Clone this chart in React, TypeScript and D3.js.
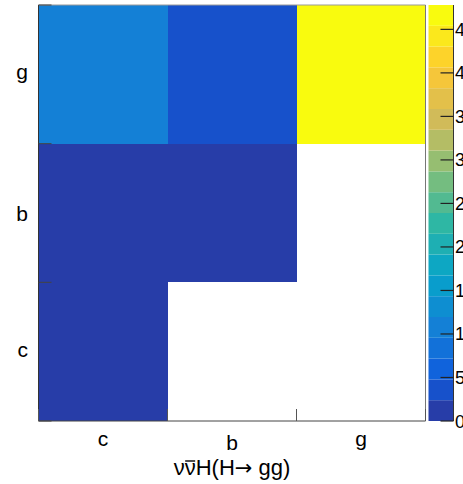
import React, { useLayoutEffect, useRef, useState } from 'react';
import * as d3 from 'd3';

// categories (bins) on both axes
const xCats = ['c', 'b', 'g'];
const yCats = ['c', 'b', 'g'];

// bin contents, one array per y row (x order: c, b, g); 0 = empty bin
const rowC = [1.0, 0, 0];
const rowB = [0.9, 1.3, 0];
const rowG = [10.6, 4.1, 47.8];
const rows = [rowC, rowB, rowG];

// colour bar tick labels
const zTicks = [0, 5, 10, 15, 20, 25, 30, 35, 40, 45];
const nContours = 20;

// ROOT kBird palette stops
const birdStops = [0, 0.125, 0.25, 0.375, 0.5, 0.625, 0.75, 0.875, 1];
const birdR = [0.2082, 0.0592, 0.078, 0.0232, 0.1802, 0.5301, 0.8186, 0.9956, 0.9764];
const birdG = [0.1664, 0.3599, 0.5041, 0.6419, 0.7178, 0.7492, 0.7328, 0.7862, 0.9832];
const birdB = [0.5293, 0.8684, 0.8385, 0.7914, 0.6425, 0.4662, 0.3499, 0.1968, 0.0539];

const birdScale = (ch: number[]) => d3.scaleLinear<number>().domain(birdStops).range(ch);
const sr = birdScale(birdR), sg = birdScale(birdG), sb = birdScale(birdB);

// colour of contour band k (same indexing as THistPainter)
const bandColor = (k: number) => {
  const idx = Math.floor((k + 0.99) * 255 / nContours);
  const pos = idx / 254;
  return d3.rgb(sr(pos) * 255, sg(pos) * 255, sb(pos) * 255).formatHex();
};

const W = 463, H = 484;
const frame = { left: 38.5, right: 425.5, top: 5, bottom: 421 };
const bar = { left: 428.5, right: 453.5 };
const FONT = '"Liberation Sans", Arial, Helvetica, sans-serif';

// labels with ascenders sit lower (ROOT aligns labels by their top)
const tall = (s: string) => /[bdfhklt]/.test(s);

export default function App() {
  const titleRef = useRef<SVGTextElement>(null);
  const [bar2, setBar2] = useState<{ x1: number; x2: number } | null>(null);

  // overline above the second nu: measure the glyph
  useLayoutEffect(() => {
    const t = titleRef.current;
    if (!t) return;
    const s = t.getStartPositionOfChar(1);
    const e = t.getEndPositionOfChar(1);
    setBar2({ x1: s.x, x2: e.x });
  }, []);

  const x = d3.scaleBand().domain(xCats).range([frame.left, frame.right]);
  const y = d3.scaleBand().domain(yCats).range([frame.bottom, frame.top]);
  const zmax = d3.max(rows.flat()) as number;
  const z = d3.scaleLinear().domain([0, zmax]).range([frame.bottom, frame.top]);
  const dz = zmax / nContours;
  const band = (v: number) => Math.min(nContours - 1, Math.floor(v / dz));

  const cells: { xi: string; yi: string; v: number }[] = [];
  rows.forEach((r, j) => r.forEach((v, i) => {
    if (v > 0) cells.push({ xi: xCats[i], yi: yCats[j], v });
  }));

  const xEdges = d3.range(xCats.length + 1).map(i => frame.left + i * x.bandwidth());
  const yEdges = d3.range(yCats.length + 1).map(i => frame.bottom - i * y.bandwidth());
  const titleY = 475;

  return (
    <svg width={W} height={H} style={{ position: 'absolute', left: 0, top: 0, background: '#fff' }}
      fontFamily={FONT}>
      {/* cells */}
      {cells.map((c, i) => (
        <rect key={i} x={x(c.xi)} y={y(c.yi)} width={x.bandwidth()} height={y.bandwidth()}
          fill={bandColor(band(c.v))} shapeRendering="crispEdges" />
      ))}

      {/* frame */}
      <line x1={frame.left} x2={frame.right} y1={frame.top} y2={frame.top} stroke="#999" />
      <line x1={frame.right} x2={frame.right} y1={frame.top} y2={frame.bottom} stroke="#777" />
      <line x1={frame.left} x2={frame.left} y1={frame.top} y2={frame.bottom} stroke="#333" />
      <line x1={frame.left} x2={frame.right} y1={frame.bottom} y2={frame.bottom} stroke="#444" />

      {/* ticks at bin edges */}
      {xEdges.map((e, i) => (
        <line key={'xt' + i} x1={e} x2={e} y1={frame.bottom} y2={frame.bottom - 12} stroke="#555" />
      ))}
      {yEdges.map((e, i) => (
        <line key={'yt' + i} x1={frame.left} x2={frame.left + 13} y1={e} y2={e} stroke="#444" />
      ))}

      {/* axis labels */}
      {xCats.map(c => (
        <text key={'xl' + c} x={(x(c) as number) + x.bandwidth() / 2} y={tall(c) ? 450 : 446}
          textAnchor="middle" fontSize={21} fill="#000">{c}</text>
      ))}
      {yCats.map(c => (
        <text key={'yl' + c} x={28} y={(y(c) as number) + y.bandwidth() / 2 + (tall(c) ? 8 : 5)}
          textAnchor="end" fontSize={21} fill="#000">{c}</text>
      ))}

      {/* x title */}
      <text ref={titleRef} x={(frame.left + frame.right) / 2} y={titleY} textAnchor="middle"
        fontSize={22} fill="#000">
        ννH(H<tspan fontFamily='"DejaVu Sans", sans-serif' fontSize={21}>→</tspan> gg)
      </text>
      {bar2 && (
        <line x1={bar2.x1 + 0.5} x2={bar2.x2 - 0.5} y1={titleY - 14} y2={titleY - 14}
          stroke="#000" strokeWidth={1.4} />
      )}

      {/* colour bar */}
      {d3.range(nContours).map(k => (
        <rect key={'cb' + k} x={bar.left} width={bar.right - bar.left}
          y={z((k + 1) * dz)} height={z(k * dz) - z((k + 1) * dz)} fill={bandColor(k)} />
      ))}
      <line x1={bar.right} x2={bar.right} y1={frame.top} y2={frame.bottom} stroke="#333" />
      {zTicks.map(t => (
        <g key={'zt' + t}>
          <line x1={bar.right - 13} x2={bar.right} y1={z(t)} y2={z(t)} stroke="#222" strokeWidth={1.2} />
          <text x={455} y={z(t) + 6.5} fontSize={18} fill="#000">{t}</text>
        </g>
      ))}
    </svg>
  );
}
